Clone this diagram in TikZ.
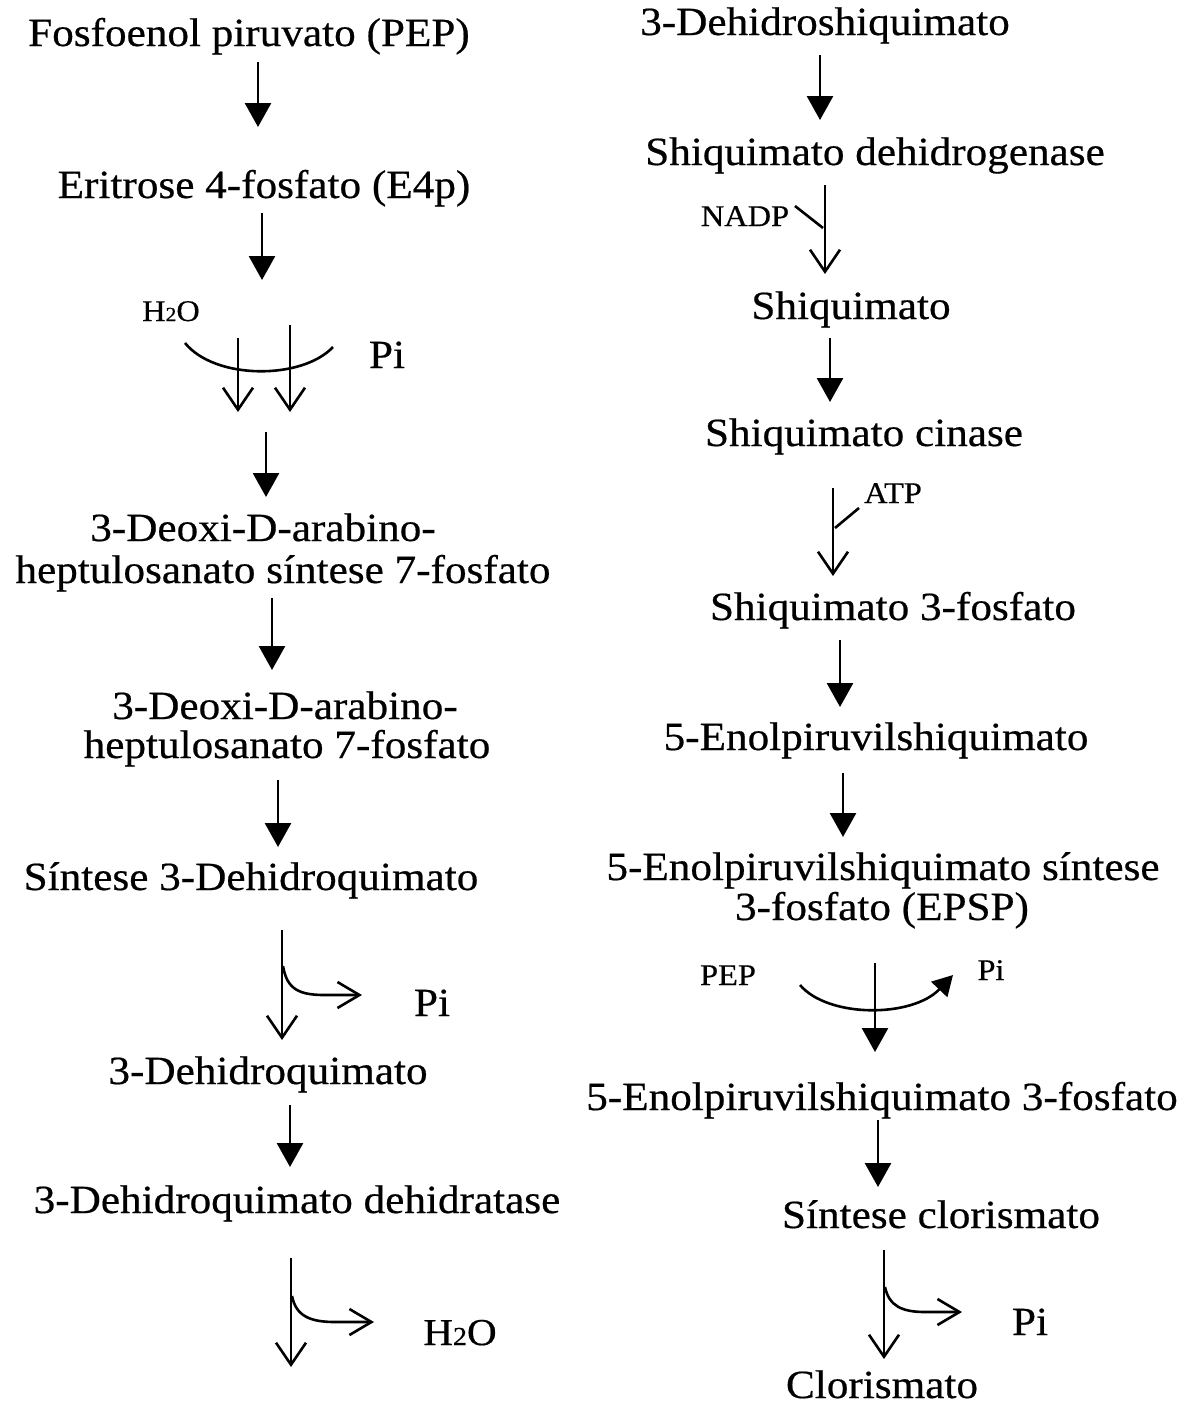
\documentclass[tikz,border=0pt]{standalone}
\usepackage{fontspec}
\setmainfont[FakeStretch=1.08,FakeBold=0.5]{Liberation Serif}
\usetikzlibrary{arrows.meta}
\tikzset{
  lbl/.style={inner sep=0pt, anchor=base, font=\fontsize{40}{44}\selectfont},
  sml/.style={inner sep=0pt, anchor=base, font=\fontsize{30}{34}\selectfont},
  mid/.style={inner sep=0pt, anchor=base, font=\fontsize{38}{42}\selectfont},
  flow/.style={line width=2.8pt, -{Triangle[length=24pt,width=26pt]}},
  openflow/.style={line width=2.6pt, -{Straight Barb[length=22pt,width=30pt,line width=2.6pt]}},
  sideflow/.style={line width=2.6pt, -{Straight Barb[length=22pt,width=26pt,line width=2.6pt]}},
  plainline/.style={line width=2.6pt},
}
\newcommand{\water}[1]{H{\fontsize{#1}{#1}\selectfont 2}O}
\begin{document}
\begin{tikzpicture}[x=1pt,y=-1pt]
\useasboundingbox (0,0) rectangle (1190,1408);

% ---------- left column ----------
\node[lbl] (pep)  at (249,46)   {Fosfoenol piruvato (PEP)};
\node[lbl] (e4p)  at (264,198)  {Eritrose 4-fosfato (E4p)};
\node[sml] (hoa)  at (171,321)  {\water{20}};
\node[lbl] (pia)  at (387,368)  {Pi};
\node[lbl] (dahs1) at (263,541) {3-Deoxi-D-arabino-};
\node[lbl] (dahs2) at (283,583) {heptulosanato síntese 7-fosfato};
\node[lbl] (dah1) at (285,719)  {3-Deoxi-D-arabino-};
\node[lbl] (dah2) at (287,758)  {heptulosanato 7-fosfato};
\node[lbl] (dqs)  at (251,890)  {Síntese 3-Dehidroquimato};
\node[lbl] (pib)  at (432,1016) {Pi};
\node[lbl] (dhq)  at (268,1084) {3-Dehidroquimato};
\node[lbl] (dhqd) at (297,1213) {3-Dehidroquimato dehidratase};
\node[mid] (hob)  at (460,1345) {\water{26}};

% ---------- right column ----------
\node[lbl] (dhs)  at (825,35)   {3-Dehidroshiquimato};
\node[lbl] (sdh)  at (875,165)  {Shiquimato dehidrogenase};
\node[sml] (nadp) at (745,226)  {NADP};
\node[lbl] (shq)  at (851,319)  {Shiquimato};
\node[lbl] (sk)   at (864,446)  {Shiquimato cinase};
\node[sml] (atp)  at (893,503)  {ATP};
\node[lbl] (s3p)  at (893,620)  {Shiquimato 3-fosfato};
\node[lbl] (enol) at (876,750)  {5-Enolpiruvilshiquimato};
\node[lbl] (eps1) at (883,880)  {5-Enolpiruvilshiquimato síntese};
\node[lbl] (eps2) at (882,920)  {3-fosfato (EPSP)};
\node[sml] (pepb) at (728,985)  {PEP};
\node[sml] (pic)  at (991,980)  {Pi};
\node[lbl] (eps3) at (882,1110) {5-Enolpiruvilshiquimato 3-fosfato};
\node[lbl] (cls)  at (941,1228) {Síntese clorismato};
\node[lbl] (pid)  at (1030,1335){Pi};
\node[lbl] (clo)  at (882,1398) {Clorismato};

% ---------- arrow end points, left ----------
\coordinate (l1s) at (258,62);   \coordinate (l1e) at (258,127);
\coordinate (l2s) at (262,213);  \coordinate (l2e) at (262,280);
\coordinate (h1s) at (238,338);  \coordinate (h1e) at (238,412);
\coordinate (h2s) at (290,325);  \coordinate (h2e) at (290,412);
\coordinate (cvA) at (185,343);  \coordinate (cvB) at (333,347);
\coordinate (l3s) at (266,432);  \coordinate (l3e) at (266,497);
\coordinate (l4s) at (272,598);  \coordinate (l4e) at (272,670);
\coordinate (l5s) at (278,780);  \coordinate (l5e) at (278,847);
\coordinate (l6s) at (282,930);  \coordinate (l6e) at (282,1040);
\coordinate (b6s) at (283,966);  \coordinate (b6e) at (362,995);
\coordinate (l7s) at (290,1105); \coordinate (l7e) at (290,1167);
\coordinate (l8s) at (291,1258); \coordinate (l8e) at (291,1367);
\coordinate (b8s) at (292,1296); \coordinate (b8e) at (374,1322);

% ---------- arrow end points, right ----------
\coordinate (r1s) at (820,55);   \coordinate (r1e) at (820,120);
\coordinate (r2s) at (825,185);  \coordinate (r2e) at (825,274);
\coordinate (njn) at (823,228);  \coordinate (nst) at (795,206);
\coordinate (r3s) at (830,338);  \coordinate (r3e) at (830,402);
\coordinate (r4s) at (833,488);  \coordinate (r4e) at (833,576);
\coordinate (ajn) at (835,528);  \coordinate (ast) at (859,508);
\coordinate (r5s) at (840,640);  \coordinate (r5e) at (840,707);
\coordinate (r6s) at (843,773);  \coordinate (r6e) at (843,837);
\coordinate (r7s) at (875,963);  \coordinate (r7e) at (875,1052);
\coordinate (pvA) at (800,985);  \coordinate (pvB) at (953,975);
\coordinate (r8s) at (878,1120); \coordinate (r8e) at (878,1187);
\coordinate (r9s) at (884,1250); \coordinate (r9e) at (884,1359);
\coordinate (b9s) at (885,1287); \coordinate (b9e) at (962,1312);

% ---------- left column arrows ----------
\draw[flow] (l1s) -- (l1e);
\draw[flow] (l2s) -- (l2e);
\draw[plainline] (cvA) .. controls (215,380) and (302,380) .. (cvB);
\draw[openflow] (h1s) -- (h1e);
\draw[openflow] (h2s) -- (h2e);
\draw[flow] (l3s) -- (l3e);
\draw[flow] (l4s) -- (l4e);
\draw[flow] (l5s) -- (l5e);
\draw[openflow] (l6s) -- (l6e);
\draw[sideflow] (b6s) .. controls (287,990) and (300,995) .. (325,995) -- (b6e);
\draw[flow] (l7s) -- (l7e);
\draw[openflow] (l8s) -- (l8e);
\draw[sideflow] (b8s) .. controls (296,1316) and (310,1322) .. (335,1322) -- (b8e);

% ---------- right column arrows ----------
\draw[flow] (r1s) -- (r1e);
\draw[openflow] (r2s) -- (r2e);
\draw[plainline] (nst) -- (njn);
\draw[flow] (r3s) -- (r3e);
\draw[openflow] (r4s) -- (r4e);
\draw[plainline] (ajn) -- (ast);
\draw[flow] (r5s) -- (r5e);
\draw[flow] (r6s) -- (r6e);
\draw[line width=2.6pt, -{Triangle[length=20pt,width=22pt]}]
  (pvA) .. controls (828,1018) and (912,1018) .. (pvB);
\draw[flow] (r7s) -- (r7e);
\draw[flow] (r8s) -- (r8e);
\draw[openflow] (r9s) -- (r9e);
\draw[sideflow] (b9s) .. controls (889,1306) and (902,1312) .. (925,1312) -- (b9e);
\end{tikzpicture}
\end{document}
